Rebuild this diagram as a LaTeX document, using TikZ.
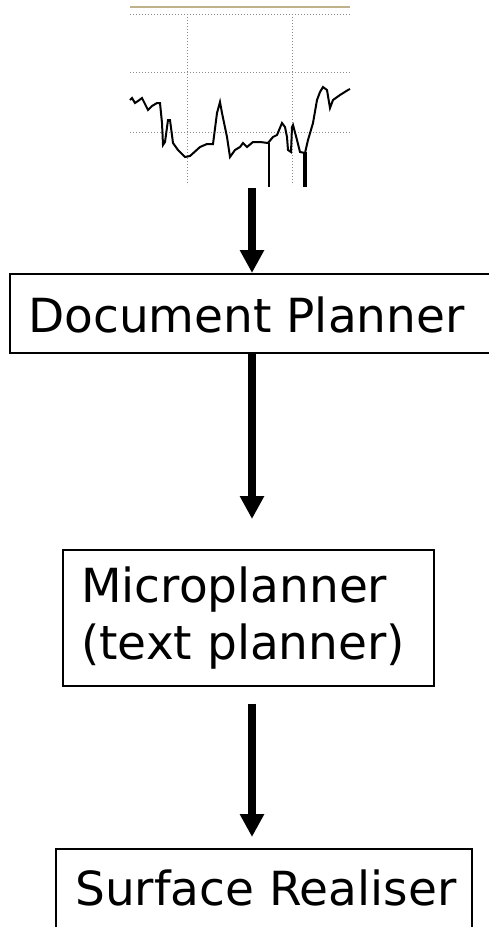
\documentclass[tikz,border=0pt]{standalone}
\usepackage{fontspec}
\setmainfont{DejaVu Sans}
\usetikzlibrary{arrows.meta}
\definecolor{axistan}{HTML}{BFB28A}
\definecolor{gridgray}{HTML}{8C8C8C}
\tikzset{
  box/.style={draw=black, line width=1.6pt, fill=none, inner sep=0pt},
  lbl/.style={inner sep=0pt, font=\fontsize{47}{56}\selectfont},
  flow/.style={line width=8pt, -{Triangle[width=23pt,length=23pt]}},
  grid line/.style={gridgray, line width=1pt, dash pattern=on 1pt off 2pt},
  trace/.style={black, line width=2pt, line join=miter}
}
\begin{document}
\begin{tikzpicture}[x=1pt, y=-1pt]
\clip (0,0) rectangle (489,927);

% --- signal plot ---
\draw[axistan, line width=1.5pt] (130,7) -- (350,7);
\foreach \yy in {14,72,132} \draw[grid line] (130,\yy) -- (350,\yy);
\foreach \xx in {187,292} \draw[grid line] (\xx,14) -- (\xx,185);
\draw[trace] (130,100) -- (132,98) -- (135,103) -- (138,101) -- (142,98) -- (145,104)
  -- (148,110) -- (152,106) -- (157,103) -- (160,103) -- (162,123) -- (163,145)
  -- (165,142) -- (168,120) -- (170,120) -- (173,143) -- (178,150) -- (185,157)
  -- (190,156) -- (200,147) -- (207,144) -- (213,144) -- (217,113) -- (220,102)
  -- (222,113) -- (227,137) -- (230,157) -- (235,150) -- (240,147) -- (243,143)
  -- (247,147) -- (253,142) -- (260,142) -- (268,143) -- (273,137) -- (277,135)
  -- (282,123) -- (285,127) -- (287,137) -- (288,150) -- (291,152) -- (292,127)
  -- (293,125) -- (297,140) -- (300,152) -- (305,153) -- (308,140) -- (313,123)
  -- (317,100) -- (320,92) -- (323,87) -- (327,90) -- (330,108) -- (333,100)
  -- (340,95) -- (348,90) -- (350,89);
\draw[black, line width=1.2pt] (269,143) -- (269,187);
\draw[black, line width=3.5pt] (305,152) -- (305,187);
\coordinate (plot) at (252,188);

% --- pipeline boxes ---
\node[box, minimum width=486pt, minimum height=79pt, anchor=north west] (doc) at (9,273) {};
\node[lbl, anchor=base west] (doctext) at (28,332) {Document Planner};

\node[box, minimum width=371pt, minimum height=136pt, anchor=north west] (micro) at (62,549) {};
\node[lbl, anchor=base west] (microa) at (81,602) {Microplanner};
\node[lbl, anchor=base west] (microb) at (81,659) {(text planner)};

\node[box, minimum width=416pt, minimum height=110pt, anchor=north west] (surf) at (55,848) {};
\node[lbl, anchor=base west] (surftext) at (75,905) {Surface Realiser};

% --- connectors ---
\coordinate (ax) at (252,0);
\draw[flow] (plot) -- (doc.north -| ax);
\draw[flow, shorten >=30pt] (doc.south -| ax) -- (micro.north -| ax);
\draw[flow, shorten <=17pt, shorten >=11pt] (micro.south -| ax) -- (surf.north -| ax);
\end{tikzpicture}
\end{document}
